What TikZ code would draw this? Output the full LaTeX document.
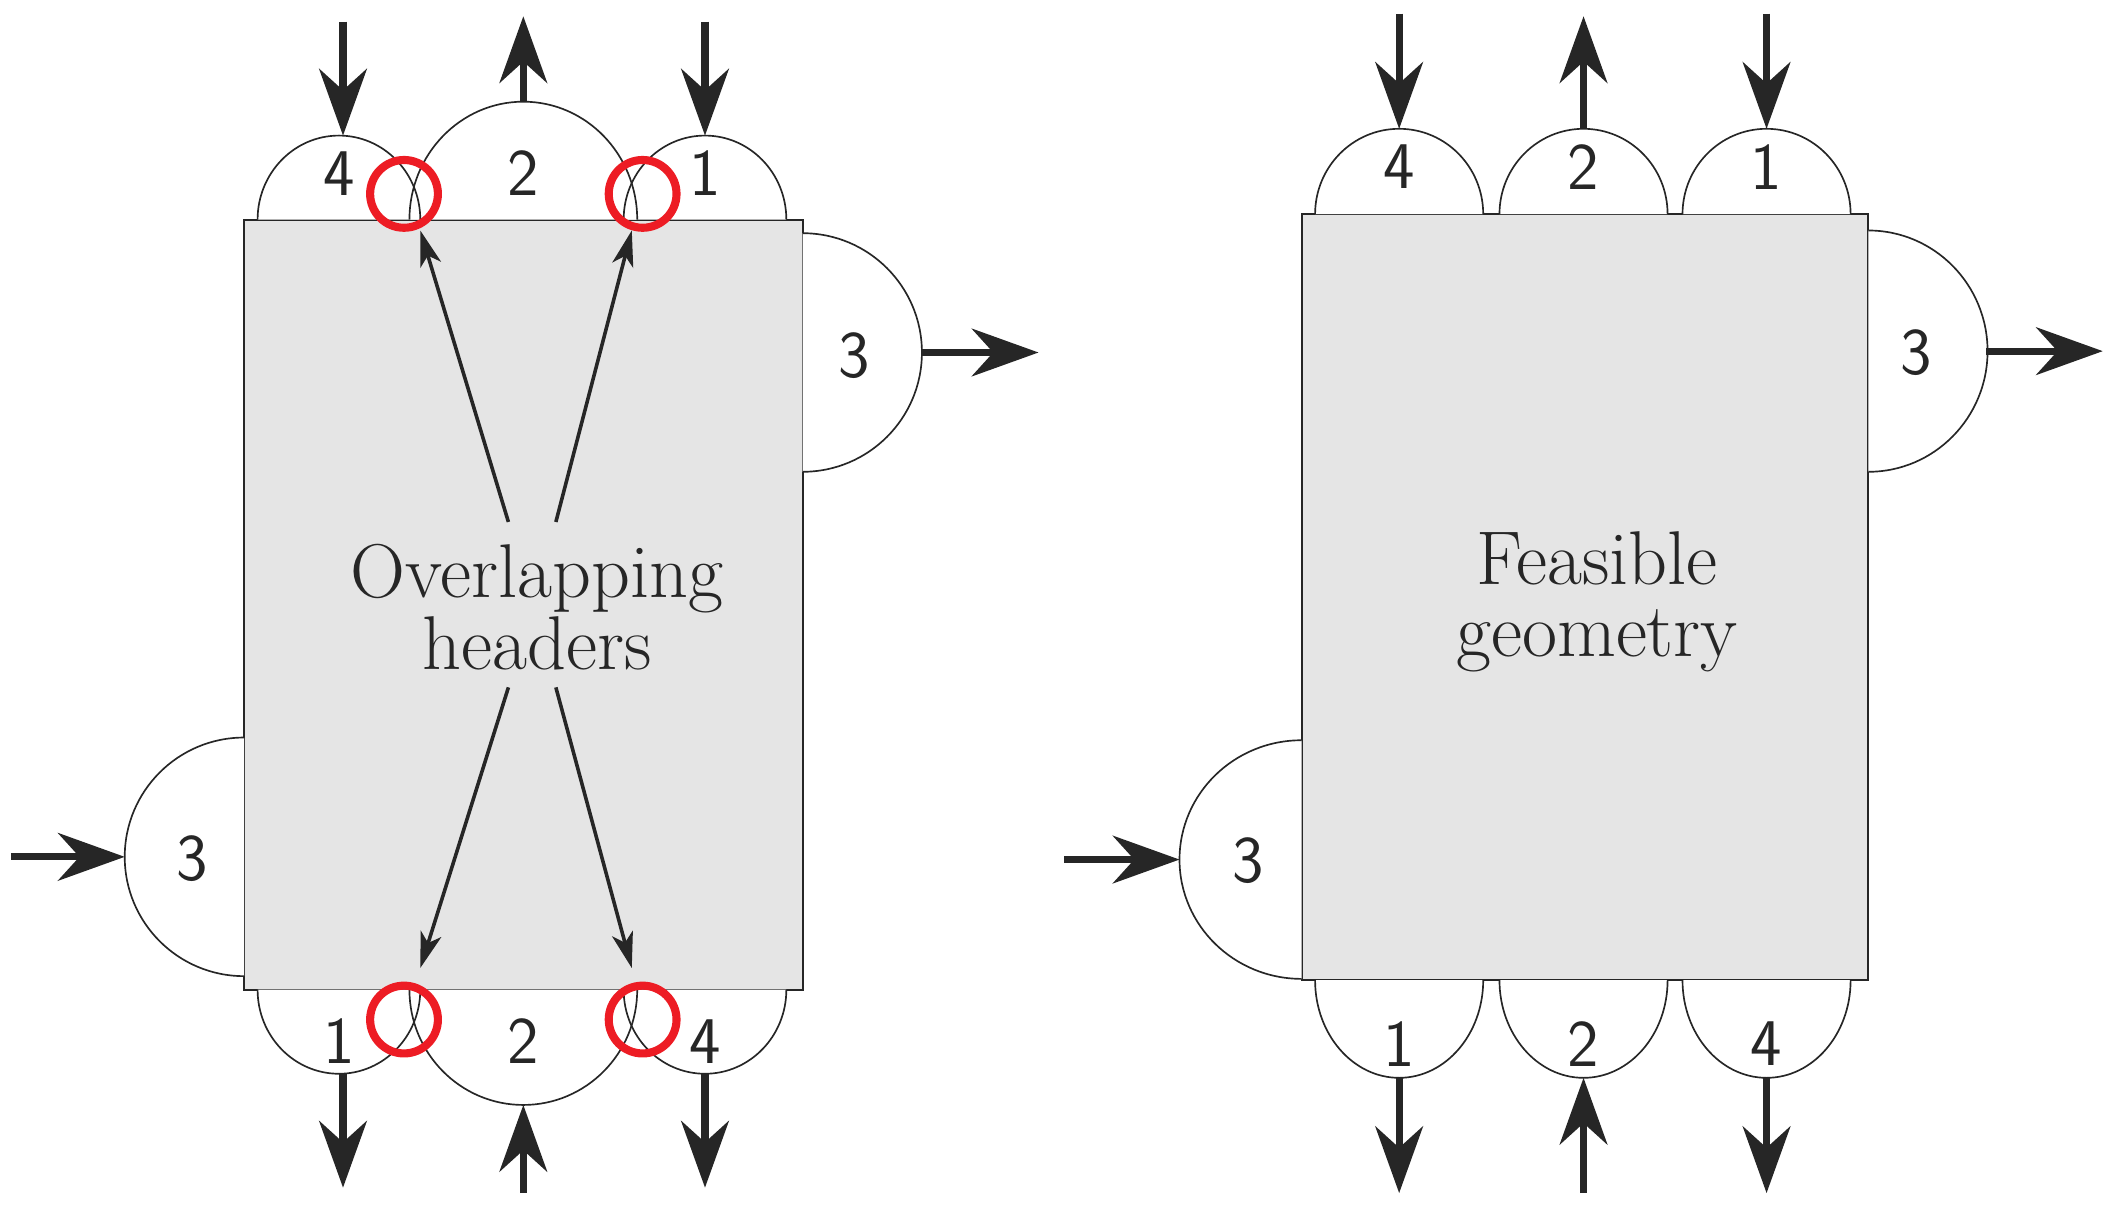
\documentclass[tikz,border=0pt]{standalone}
\usetikzlibrary{arrows.meta}
\begin{document}
\begin{tikzpicture}[x=0.02cm,y=0.02cm,yscale=-1,
  box/.style={fill={rgb,255:red,229;green,229;blue,229},draw=black!85,line width=0.8pt},
  lobe/.style={fill=white},
  lobeline/.style={draw=black!85,line width=0.7pt},
  flow/.style={line width=3pt,draw=black!85,-{Stealth[length=28pt,width=20pt,inset=9pt]}},
  ptr/.style={line width=1.5pt,draw=black!85,-{Stealth[length=15pt,width=9pt,inset=4pt]}},
  redring/.style={draw={rgb,255:red,237;green,28;blue,36},line width=3.4pt,circle,minimum size=50*0.02cm,inner sep=0pt},
  num/.style={font=\sffamily\fontsize{28}{28}\selectfont,text=black!85,inner sep=0pt},
  lbl/.style={font=\fontsize{32}{30}\selectfont,text=black!85,align=center,inner sep=0pt}]
\useasboundingbox (0,0) rectangle (1560,892);
% ---------- left ----------
\node[box,minimum width=412*0.02cm,minimum height=568*0.02cm,inner sep=0pt] (L) at (386,446) {};
\foreach \p in {
 {(190,162) arc[start angle=180,end angle=360,x radius=60,y radius=62]},
 {(460,162) arc[start angle=180,end angle=360,x radius=60,y radius=62]},
 {(302,162) arc[start angle=180,end angle=360,x radius=84,y radius=87]},
 {(190,730) arc[start angle=180,end angle=0,x radius=60,y radius=62]},
 {(460,730) arc[start angle=180,end angle=0,x radius=60,y radius=62]},
 {(302,730) arc[start angle=180,end angle=0,x radius=84,y radius=85]},
 {(592,172) arc[start angle=270,end angle=450,x radius=88,y radius=88]},
 {(180,720) arc[start angle=90,end angle=270,x radius=88,y radius=88]}}
 {\fill[lobe] \p -- cycle;}
\foreach \p in {
 {(190,162) arc[start angle=180,end angle=360,x radius=60,y radius=62]},
 {(460,162) arc[start angle=180,end angle=360,x radius=60,y radius=62]},
 {(302,162) arc[start angle=180,end angle=360,x radius=84,y radius=87]},
 {(190,730) arc[start angle=180,end angle=0,x radius=60,y radius=62]},
 {(460,730) arc[start angle=180,end angle=0,x radius=60,y radius=62]},
 {(302,730) arc[start angle=180,end angle=0,x radius=84,y radius=85]},
 {(592,172) arc[start angle=270,end angle=450,x radius=88,y radius=88]},
 {(180,720) arc[start angle=90,end angle=270,x radius=88,y radius=88]}}
 {\draw[lobeline] \p;}
\node[num] (lt4) at (250,128) {4};
\node[num] (lt2) at (386,128) {2};
\node[num] (lt1) at (520,128) {1};
\node[num] (lb1) at (250,768) {1};
\node[num] (lb2) at (386,768) {2};
\node[num] (lb4) at (520,768) {4};
\node[num] (lr3) at (630,262) {3};
\node[num] (ll3) at (142,633) {3};
\node[lbl] (ltext) at (396,448) {Overlapping\\headers};
\coordinate (a1) at (253,16); \coordinate (a1e) at (253,100);
\coordinate (a2) at (386,75); \coordinate (a2e) at (386,12);
\coordinate (a3) at (520,16); \coordinate (a3e) at (520,100);
\coordinate (a4) at (680,260); \coordinate (a4e) at (766,260);
\coordinate (a5) at (8,632); \coordinate (a5e) at (92,632);
\coordinate (a6) at (253,792); \coordinate (a6e) at (253,876);
\coordinate (a7) at (386,880); \coordinate (a7e) at (386,815);
\coordinate (a8) at (520,792); \coordinate (a8e) at (520,876);
\foreach \s/\e in {a1/a1e,a2/a2e,a3/a3e,a4/a4e,a5/a5e,a6/a6e,a7/a7e,a8/a8e} \draw[flow] (\s) -- (\e);
\coordinate (p1) at (375,385); \coordinate (q1) at (310,170);
\coordinate (p2) at (410,385); \coordinate (q2) at (466,170);
\coordinate (p3) at (375,507); \coordinate (q3) at (310,714);
\coordinate (p4) at (410,507); \coordinate (q4) at (466,714);
\foreach \s/\e in {p1/q1,p2/q2,p3/q3,p4/q4} \draw[ptr] (\s) -- (\e);
\node[redring] (c1) at (298,143) {};
\node[redring] (c2) at (474,143) {};
\node[redring] (c3) at (298,752) {};
\node[redring] (c4) at (474,752) {};
% ---------- right ----------
\node[box,minimum width=418*0.02cm,minimum height=565*0.02cm,inner sep=0pt] (R) at (1169,440.5) {};
\foreach \p in {
 {(970,158) arc[start angle=180,end angle=360,x radius=62,y radius=63]},
 {(1106,158) arc[start angle=180,end angle=360,x radius=62,y radius=63]},
 {(1241,158) arc[start angle=180,end angle=360,x radius=62,y radius=63]},
 {(970,723) arc[start angle=180,end angle=0,x radius=62,y radius=72]},
 {(1106,723) arc[start angle=180,end angle=0,x radius=62,y radius=72]},
 {(1241,723) arc[start angle=180,end angle=0,x radius=62,y radius=72]},
 {(1378,170) arc[start angle=270,end angle=450,x radius=88,y radius=89]},
 {(960,722) arc[start angle=90,end angle=270,x radius=90,y radius=88]}}
 {\fill[lobe] \p -- cycle; \draw[lobeline] \p;}
\node[num] (rt4) at (1032,123) {4};
\node[num] (rt2) at (1168,123) {2};
\node[num] (rt1) at (1303,123) {1};
\node[num] (rb1) at (1032,770) {1};
\node[num] (rb2) at (1168,770) {2};
\node[num] (rb4) at (1303,770) {4};
\node[num] (rr3) at (1413,260) {3};
\node[num] (rl3) at (921,635) {3};
\node[lbl] (rtext) at (1178,444) {Feasible\\geometry};
\coordinate (b1) at (1032,10); \coordinate (b1e) at (1032,95);
\coordinate (b2) at (1168,95); \coordinate (b2e) at (1168,12);
\coordinate (b3) at (1303,10); \coordinate (b3e) at (1303,95);
\coordinate (b4) at (1465,259); \coordinate (b4e) at (1551,259);
\coordinate (b5) at (785,634); \coordinate (b5e) at (870,634);
\coordinate (b6) at (1032,795); \coordinate (b6e) at (1032,880);
\coordinate (b7) at (1168,880); \coordinate (b7e) at (1168,795);
\coordinate (b8) at (1303,795); \coordinate (b8e) at (1303,880);
\foreach \s/\e in {b1/b1e,b2/b2e,b3/b3e,b4/b4e,b5/b5e,b6/b6e,b7/b7e,b8/b8e} \draw[flow] (\s) -- (\e);
\end{tikzpicture}
\end{document}
